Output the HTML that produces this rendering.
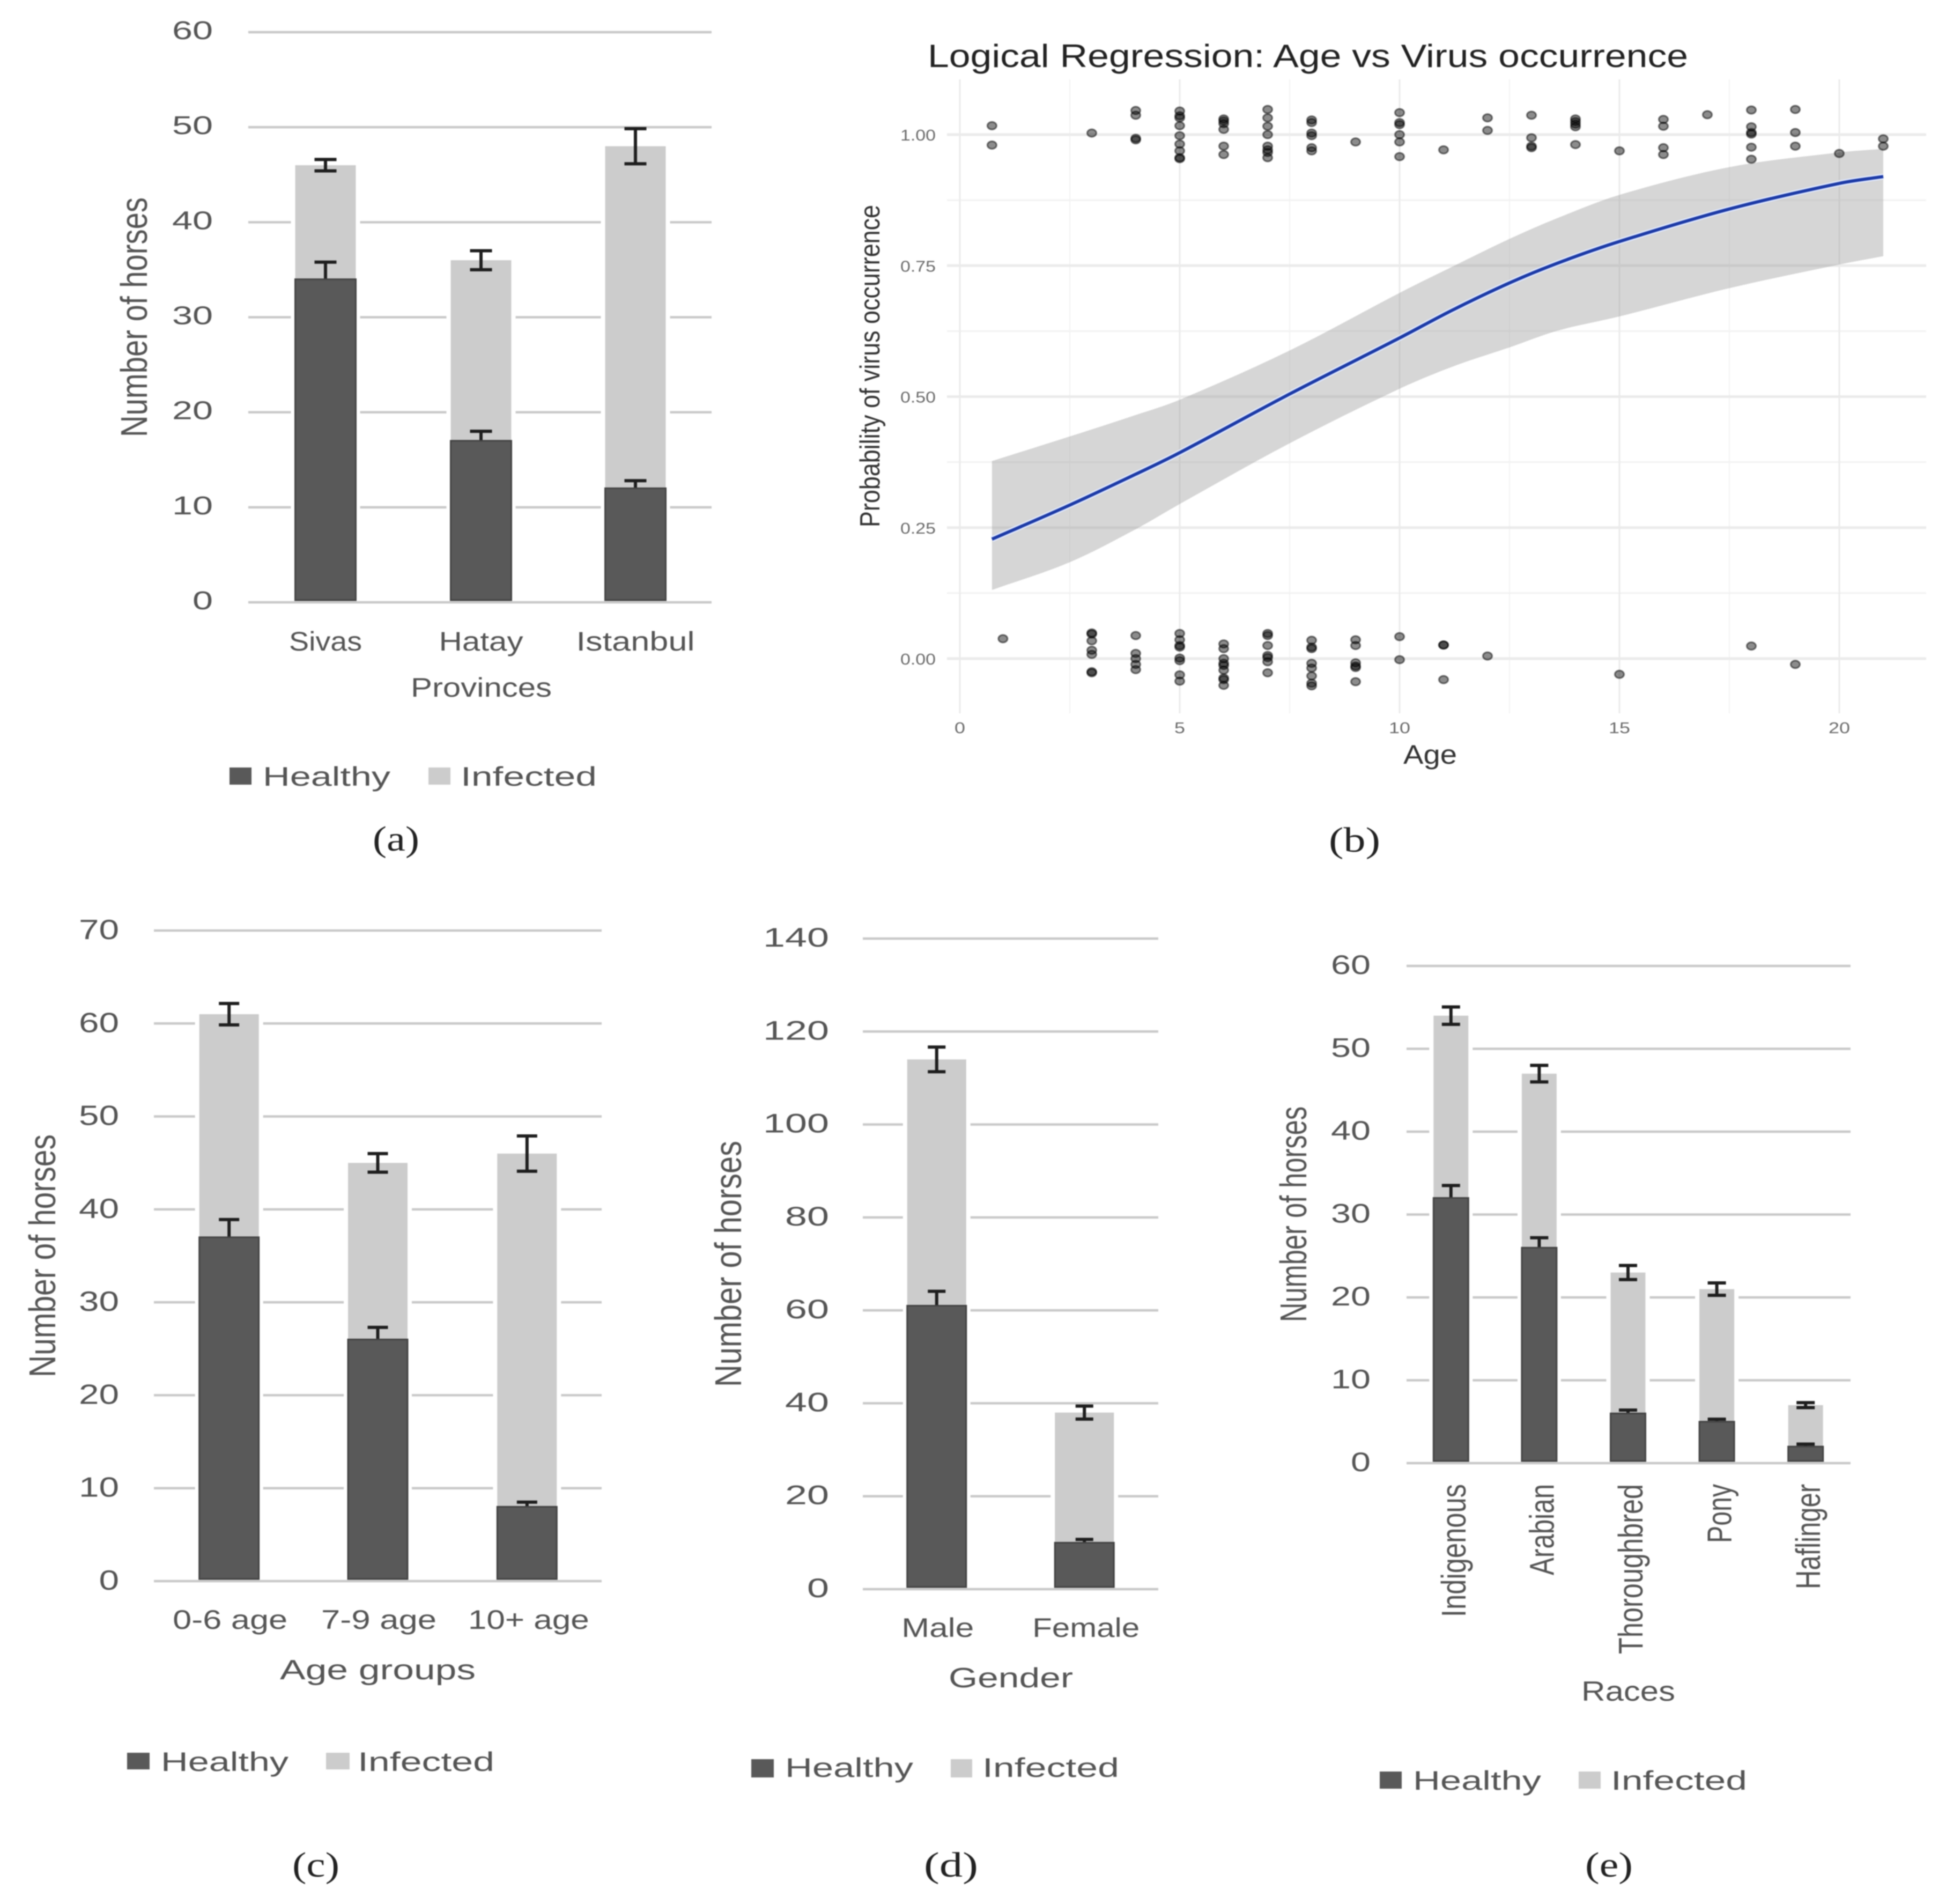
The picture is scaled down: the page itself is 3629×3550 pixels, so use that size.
<!DOCTYPE html>
<html lang="en">
<head>
<meta charset="utf-8">
<title>Virus occurrence in horses</title>
<style>
  html, body { margin: 0; padding: 0; background: #fff; }
  #figure { display: block; width: 3629px; height: 3550px; filter: blur(1px); }
  text { font-family: "Liberation Sans", sans-serif; fill: #555555; }
  .axis-title { font-size: 70px; }
  .legend-text { font-size: 50px; }
  .caption { font-family: "Liberation Serif", serif; font-size: 66px; fill: #222; }
</style>
</head>
<body>
<svg id="figure" xmlns="http://www.w3.org/2000/svg" width="3629" height="3550" viewBox="0 0 3629 3550">
  <rect x="0" y="0" width="3629" height="3550" fill="#ffffff"/>

  <!-- Panel A -->
  <g id="panel-a">
    <text class="axis-title" transform="translate(274,815) rotate(-90)" textLength="447" lengthAdjust="spacingAndGlyphs">Number of horses</text>
    <text x="766" y="1299" font-size="50" textLength="263" lengthAdjust="spacingAndGlyphs">Provinces</text>
    <rect x="428" y="1431" width="41" height="32" fill="#595959"/>
    <text class="legend-text" x="490" y="1465" textLength="238" lengthAdjust="spacingAndGlyphs">Healthy</text>
    <rect x="799" y="1431" width="41" height="32" fill="#cccccc"/>
    <text class="legend-text" x="859" y="1465" textLength="254" lengthAdjust="spacingAndGlyphs">Infected</text>
    <text class="caption" x="695" y="1586" textLength="87" lengthAdjust="spacingAndGlyphs">(a)</text>
  </g>

  <!-- Panel B -->
  <g id="panel-b">
    <text x="1730" y="125" font-size="60" style="fill:#222" textLength="1418" lengthAdjust="spacingAndGlyphs">Logical Regression: Age vs Virus occurrence</text>
    <text transform="translate(1640,983) rotate(-90)" font-size="52" style="fill:#333" textLength="601" lengthAdjust="spacingAndGlyphs">Probability of virus occurrence</text>
    <text x="2617" y="1424" font-size="50" style="fill:#333" textLength="100" lengthAdjust="spacingAndGlyphs">Age</text>
    <text class="caption" x="2478" y="1588" textLength="96" lengthAdjust="spacingAndGlyphs">(b)</text>
  </g>

  <!-- Panel C -->
  <g id="panel-c">
    <text class="axis-title" transform="translate(103,2568) rotate(-90)" textLength="453" lengthAdjust="spacingAndGlyphs">Number of horses</text>
    <text x="522" y="3131" font-size="52" textLength="365" lengthAdjust="spacingAndGlyphs">Age groups</text>
    <rect x="237" y="3268" width="42" height="31" fill="#595959"/>
    <text class="legend-text" x="300" y="3302" textLength="238" lengthAdjust="spacingAndGlyphs">Healthy</text>
    <rect x="608" y="3268" width="44" height="31" fill="#cccccc"/>
    <text class="legend-text" x="667" y="3302" textLength="255" lengthAdjust="spacingAndGlyphs">Infected</text>
    <text class="caption" x="545" y="3499" textLength="88" lengthAdjust="spacingAndGlyphs">(c)</text>
  </g>

  <!-- Panel D -->
  <g id="panel-d">
    <text class="axis-title" transform="translate(1382,2586) rotate(-90)" textLength="459" lengthAdjust="spacingAndGlyphs">Number of horses</text>
    <text x="1769" y="3146" font-size="52" textLength="232" lengthAdjust="spacingAndGlyphs">Gender</text>
    <rect x="1401" y="3280" width="42" height="34" fill="#595959"/>
    <text class="legend-text" x="1464" y="3313" textLength="239" lengthAdjust="spacingAndGlyphs">Healthy</text>
    <rect x="1773" y="3280" width="40" height="34" fill="#cccccc"/>
    <text class="legend-text" x="1832" y="3313" textLength="255" lengthAdjust="spacingAndGlyphs">Infected</text>
    <text class="caption" x="1723" y="3499" textLength="101" lengthAdjust="spacingAndGlyphs">(d)</text>
  </g>

  <!-- Panel E -->
  <g id="panel-e">
    <text class="axis-title" transform="translate(2436,2465) rotate(-90)" textLength="402" lengthAdjust="spacingAndGlyphs">Number of horses</text>
    <text x="2949" y="3171" font-size="52" textLength="175" lengthAdjust="spacingAndGlyphs">Races</text>
    <rect x="2573" y="3303" width="41" height="32" fill="#595959"/>
    <text class="legend-text" x="2635" y="3337" textLength="239" lengthAdjust="spacingAndGlyphs">Healthy</text>
    <rect x="2944" y="3303" width="41" height="32" fill="#cccccc"/>
    <text class="legend-text" x="3004" y="3337" textLength="254" lengthAdjust="spacingAndGlyphs">Infected</text>
    <text class="caption" x="2956" y="3499" textLength="89" lengthAdjust="spacingAndGlyphs">(e)</text>
  </g>
</svg>

<script>
// ---------- Panel A data ----------
const provinceCategories = ["Sivas", "Hatay", "Istanbul"];
const provinceHealthy = [34, 17, 12];
const provinceInfected = [12, 19, 36];
const provinceHealthyErr = [1.8, 1.0, 0.8];
const provinceInfectedErr = [0.6, 1.0, 1.85];
const provinceTicks = [0, 10, 20, 30, 40, 50, 60];

// ---------- Panel C data ----------
const ageGroupCategories = ["0-6 age", "7-9 age", "10+ age"];
const ageGroupHealthy = [37, 26, 8];
const ageGroupInfected = [24, 19, 38];
const ageGroupHealthyErr = [1.9, 1.3, 0.5];
const ageGroupInfectedErr = [1.15, 1.0, 1.9];
const ageGroupTicks = [0, 10, 20, 30, 40, 50, 60, 70];

// ---------- Panel D data ----------
const genderCategories = ["Male", "Female"];
const genderHealthy = [61, 10];
const genderInfected = [53, 28];
const genderHealthyErr = [3.1, 0.7];
const genderInfectedErr = [2.65, 1.4];
const genderTicks = [0, 20, 40, 60, 80, 100, 120, 140];

// ---------- Panel E data ----------
const raceCategories = ["Indigenous", "Arabian", "Thoroughbred", "Pony", "Haflinger"];
const raceHealthy = [32, 26, 6, 5, 2];
const raceInfected = [22, 21, 17, 16, 5];
const raceHealthyErr = [1.5, 1.2, 0.4, 0.3, 0.3];
const raceInfectedErr = [1.05, 1.0, 0.85, 0.75, 0.3];
const raceTicks = [0, 10, 20, 30, 40, 50, 60];

// ---------- Panel B data ----------
const regressionXTicks = [0, 5, 10, 15, 20];
const regressionYTicks = [0, 0.25, 0.5, 0.75, 1];
const regressionAges = [0.73, 2.5, 4, 5, 7.5, 10, 11.2, 12.5, 13.6, 15, 17.5, 20, 21];
const regressionFit = [0.228, 0.293, 0.352, 0.393, 0.505, 0.612, 0.665, 0.717, 0.755, 0.796, 0.858, 0.907, 0.92];
const regressionUpper = [0.377, 0.424, 0.465, 0.494, 0.588, 0.698, 0.748, 0.801, 0.841, 0.885, 0.938, 0.966, 0.973];
const regressionLower = [0.131, 0.184, 0.247, 0.295, 0.411, 0.515, 0.557, 0.594, 0.626, 0.653, 0.707, 0.752, 0.768];
const pointAges = [
  0.73, 0.73, 3, 4, 4, 4, 4, 5, 5, 5, 5, 5, 5, 5, 5, 5,
  6, 6, 6, 6, 6, 6, 7, 7, 7, 7, 7, 7, 7, 7,
  8, 8, 8, 8, 8, 8, 9, 10, 10, 10, 10, 10, 10, 11, 12, 12,
  13, 13, 13, 13, 14, 14, 14, 14, 14, 15, 16, 16, 16, 16, 17,
  18, 18, 18, 18, 18, 18, 19, 19, 19, 20, 21, 21,
  0.98, 3, 3, 3, 3, 3, 3, 3, 4, 4, 4, 4, 4,
  5, 5, 5, 5, 5, 5, 5, 5, 6, 6, 6, 6, 6, 6, 6, 6, 6,
  7, 7, 7, 7, 7, 7, 7, 8, 8, 8, 8, 8, 8, 8, 8,
  9, 9, 9, 9, 9, 9, 10, 10, 11, 11, 11, 12, 15, 18, 19
];
const pointProbs = [
  1.017, 0.98, 1.003, 1.046, 1.037, 0.993, 0.99, 1.045, 1.036, 1.032, 1.017, 0.998, 0.982, 0.969, 0.956, 0.954,
  1.03, 1.026, 1.021, 1.01, 0.978, 0.962, 1.048, 1.032, 1.016, 1.0, 0.978, 0.971, 0.966, 0.956,
  1.028, 1.023, 1.003, 0.998, 0.975, 0.969, 0.986, 1.042, 1.023, 1.019, 1.0, 0.986, 0.958, 0.971, 1.032, 1.008,
  1.037, 0.994, 0.978, 0.975, 1.03, 1.025, 1.02, 1.015, 0.981, 0.969, 1.029, 1.016, 0.975, 0.962, 1.038,
  1.047, 1.015, 1.004, 1.001, 0.976, 0.953, 1.048, 1.004, 0.978, 0.964, 0.992, 0.978,
  0.038, 0.049, 0.047, 0.034, 0.016, 0.008, -0.025, -0.027, 0.044, 0.01, 0.0, -0.011, -0.021,
  0.048, 0.036, 0.025, 0.022, 0.001, -0.004, -0.031, -0.043, 0.028, 0.019, 0.0, -0.009, -0.013, -0.022, -0.037, -0.04, -0.051,
  0.048, 0.044, 0.025, 0.006, 0.002, -0.006, -0.027, 0.035, 0.022, 0.019, -0.009, -0.018, -0.033, -0.047, -0.052,
  0.036, 0.025, -0.008, -0.014, -0.017, -0.044, 0.042, -0.002, 0.026, 0.026, -0.04, 0.005, -0.03, 0.024, -0.011
];

const SVG_NS = "http://www.w3.org/2000/svg";

function shape(parent, tag, attrs, name) {
  const el = document.createElementNS(SVG_NS, tag);
  for (const key in attrs) { el.setAttribute(key, attrs[key]); }
  
  
  parent.appendChild(el);
  return el;
}

function label(parent, str, x, y, size, width, anchor, name, rotated, color) {
  const el = document.createElementNS(SVG_NS, "text");
  if (rotated) {
    el.setAttribute("transform", "translate(" + x + "," + y + ") rotate(-90)");
  } else {
    el.setAttribute("x", x);
    el.setAttribute("y", y);
  }
  el.setAttribute("font-size", size);
  el.setAttribute("text-anchor", anchor);
  if (width) {
    el.setAttribute("textLength", width);
    el.setAttribute("lengthAdjust", "spacingAndGlyphs");
  }
  if (color) { el.style.fill = color; }
  el.textContent = str;
  
  
  parent.appendChild(el);
  return el;
}

function errorBar(parent, cx, yTop, yBottom, capWidth, name) {
  const g = shape(parent, "g", { stroke: "#1e1e1e", "stroke-width": 6, fill: "none" }, name);
  shape(g, "line", { x1: cx, x2: cx, y1: yTop, y2: yBottom }, name + "-stem");
  shape(g, "line", { x1: cx - capWidth / 2, x2: cx + capWidth / 2, y1: yTop, y2: yTop }, name + "-cap-top");
  shape(g, "line", { x1: cx - capWidth / 2, x2: cx + capWidth / 2, y1: yBottom, y2: yBottom }, name + "-cap-bottom");
}

function drawStacked(opts) {
  const g = document.getElementById(opts.id);
  const maxTick = opts.ticks[opts.ticks.length - 1];
  const y = function (v) { return opts.y0 - (v / maxTick) * (opts.y0 - opts.yTop); };
  const band = (opts.x1 - opts.x0) / opts.categories.length;
  const x = function (i) { return opts.x0 + band * (i + 0.5) + (opts.barDx ? opts.barDx[i] : 0); };
  const base = y(0) - 4;

  opts.ticks.forEach(function (t) {
    shape(g, "line", { x1: opts.x0, x2: opts.x1, y1: y(t), y2: y(t), stroke: "#c9c9c9", "stroke-width": 4.5 }, "gridline-" + opts.key + "-" + t);
    const text = String(t);
    label(g, text, opts.tickRight, y(t) + opts.tickDy, opts.tickSize, text.length * opts.digitWidth, "end", "y-tick-" + opts.key + "-" + t);
  });

  opts.categories.forEach(function (cat, i) {
    const cx = x(i);
    const h = opts.healthy[i];
    const total = h + opts.infected[i];
    const left = cx - opts.barWidth / 2;
    const slug = opts.key + "-" + cat.toLowerCase().replace(/[^a-z0-9]+/g, "-");
    shape(g, "rect", { x: left - 8, y: y(total), width: opts.barWidth + 16, height: base - y(total), fill: "#ffffff" }, "bar-halo-" + slug);
    shape(g, "rect", { x: left, y: y(total), width: opts.barWidth, height: y(h) - y(total), fill: "#cccccc" }, "bar-infected-" + slug);
    errorBar(g, cx, y(h + opts.healthyErr[i]), y(h - opts.healthyErr[i]), opts.capWidth, "error-bar-healthy-" + slug);
    shape(g, "rect", { x: left, y: y(h), width: opts.barWidth, height: base - y(h), fill: "#595959", stroke: "#434343", "stroke-width": 3 }, "bar-healthy-" + slug);
    errorBar(g, cx, y(total + opts.infectedErr[i]), y(total - opts.infectedErr[i]), opts.capWidth, "error-bar-infected-" + slug);
    if (opts.rotatedLabels) {
      label(g, cat, cx + 27, opts.catY, opts.catSize, opts.catWidths[i], "end", "x-tick-" + slug, true);
    } else {
      label(g, cat, cx + (opts.catDx ? opts.catDx[i] : 0), opts.catY, opts.catSize, opts.catWidths[i], "middle", "x-tick-" + slug);
    }
  });
}

drawStacked({
  id: "panel-a", key: "a",
  categories: provinceCategories, healthy: provinceHealthy, infected: provinceInfected,
  healthyErr: provinceHealthyErr, infectedErr: provinceInfectedErr, ticks: provinceTicks,
  x0: 463, x1: 1327, yTop: 60, y0: 1123, barWidth: 113, capWidth: 41, barDx: [0, 2, 2],
  tickRight: 397, tickDy: 13, tickSize: 48, digitWidth: 38,
  catY: 1213, catSize: 50, catWidths: [136, 157, 221], catDx: [0, 0, 0]
});

drawStacked({
  id: "panel-c", key: "c",
  categories: ageGroupCategories, healthy: ageGroupHealthy, infected: ageGroupInfected,
  healthyErr: ageGroupHealthyErr, infectedErr: ageGroupInfectedErr, ticks: ageGroupTicks,
  x0: 287, x1: 1122, yTop: 1735, y0: 2948, barWidth: 111, capWidth: 38, barDx: [1, 0, 0],
  tickRight: 222, tickDy: 16, tickSize: 52, digitWidth: 37.5,
  catY: 3037, catSize: 50, catWidths: [214, 215, 226], catDx: [2, 2, 3]
});

drawStacked({
  id: "panel-d", key: "d",
  categories: genderCategories, healthy: genderHealthy, infected: genderInfected,
  healthyErr: genderHealthyErr, infectedErr: genderInfectedErr, ticks: genderTicks,
  x0: 1609, x1: 2160, yTop: 1750, y0: 2963, barWidth: 110, capWidth: 33,
  tickRight: 1546, tickDy: 15, tickSize: 50, digitWidth: 41,
  catY: 3052, catSize: 50, catWidths: [135, 200], catDx: [2, 3]
});

drawStacked({
  id: "panel-e", key: "e",
  categories: raceCategories, healthy: raceHealthy, infected: raceInfected,
  healthyErr: raceHealthyErr, infectedErr: raceInfectedErr, ticks: raceTicks,
  x0: 2623, x1: 3451, yTop: 1801, y0: 2728, barWidth: 65, capWidth: 34, barDx: [0, -1, -1, -1, -1],
  tickRight: 2556, tickDy: 15, tickSize: 50, digitWidth: 37,
  rotatedLabels: true, catY: 2767, catSize: 64, catWidths: [248, 170, 317, 110, 196]
});

// ---------- Panel B drawing ----------
(function drawRegression() {
  const g = document.getElementById("panel-b");
  const xAxis = function (age) { return 1790 + age * 82; };
  const yAxis = function (p) { return 1228 - p * 977; };
  const left = 1766, right = 3592, top = 148, bottom = 1330;

  const yMinor = regressionYTicks.slice(1).map(function (t, i) { return (t + regressionYTicks[i]) / 2; });
  const xMinor = regressionXTicks.slice(1).map(function (t, i) { return (t + regressionXTicks[i]) / 2; });
  yMinor.forEach(function (t) {
    shape(g, "line", { x1: left, x2: right, y1: yAxis(t), y2: yAxis(t), stroke: "#f2f2f2", "stroke-width": 3 }, "minor-gridline-y-" + t);
  });
  xMinor.forEach(function (t) {
    shape(g, "line", { x1: xAxis(t), x2: xAxis(t), y1: top, y2: bottom, stroke: "#f2f2f2", "stroke-width": 2 }, "minor-gridline-x-" + t);
  });
  regressionYTicks.forEach(function (t) {
    shape(g, "line", { x1: left, x2: right, y1: yAxis(t), y2: yAxis(t), stroke: "#ebebeb", "stroke-width": 5 }, "gridline-y-" + t);
    label(g, t.toFixed(2), 1745, yAxis(t) + 11, 29, 66, "end", "y-tick-b-" + t, false, "#6b6b6b");
  });
  regressionXTicks.forEach(function (t) {
    shape(g, "line", { x1: xAxis(t), x2: xAxis(t), y1: top, y2: bottom, stroke: "#ebebeb", "stroke-width": 3 }, "gridline-x-" + t);
    label(g, String(t), xAxis(t), 1367, 29, String(t).length * 20, "middle", "x-tick-b-" + t, false, "#6b6b6b");
  });

  // Cubic Hermite segments with slopes taken from neighbouring points; handles uneven spacing.
  function smoothPath(xs, ys) {
    const n = xs.length;
    const slope = function (i) {
      const a = Math.max(i - 1, 0), b = Math.min(i + 1, n - 1);
      return (ys[b] - ys[a]) / (xs[b] - xs[a]);
    };
    let d = "";
    for (let i = 0; i < n - 1; i++) {
      const dx = (xs[i + 1] - xs[i]) / 3;
      d += " C" + (xs[i] + dx).toFixed(1) + " " + (ys[i] + slope(i) * dx).toFixed(1) + " " +
           (xs[i + 1] - dx).toFixed(1) + " " + (ys[i + 1] - slope(i + 1) * dx).toFixed(1) + " " +
           xs[i + 1].toFixed(1) + " " + ys[i + 1].toFixed(1);
    }
    return d;
  }

  const xs = regressionAges.map(xAxis);
  const upperYs = regressionUpper.map(yAxis);
  const lowerYs = regressionLower.map(yAxis);
  const fitYs = regressionFit.map(yAxis);
  const xsRev = xs.slice().reverse();
  const lowerRev = lowerYs.slice().reverse();
  const bandPath = "M" + xs[0] + " " + upperYs[0] + smoothPath(xs, upperYs) +
    " L" + xsRev[0] + " " + lowerRev[0] + smoothPath(xsRev, lowerRev) + " Z";
  shape(g, "path", { d: bandPath, fill: "#999999", "fill-opacity": 0.4 }, "confidence-band");
  const fitPath = "M" + xs[0] + " " + fitYs[0] + smoothPath(xs, fitYs);
  shape(g, "path", { d: fitPath, fill: "none", stroke: "#dfe8ff", "stroke-width": 11 }, "fit-line-halo");
  shape(g, "path", { d: fitPath, fill: "none", stroke: "#1c3aa6", "stroke-width": 6 }, "fit-line");

  const pts = shape(g, "g", {}, "data-points");
  pointAges.forEach(function (age, i) {
    shape(pts, "ellipse", {
      cx: xAxis(age), cy: yAxis(pointProbs[i]), rx: 8.5, ry: 7,
      fill: "#000000", "fill-opacity": 0.45, stroke: "#000000", "stroke-opacity": 0.5, "stroke-width": 3
    }, "data-point");
  });
})();
</script>
</body>
</html>
